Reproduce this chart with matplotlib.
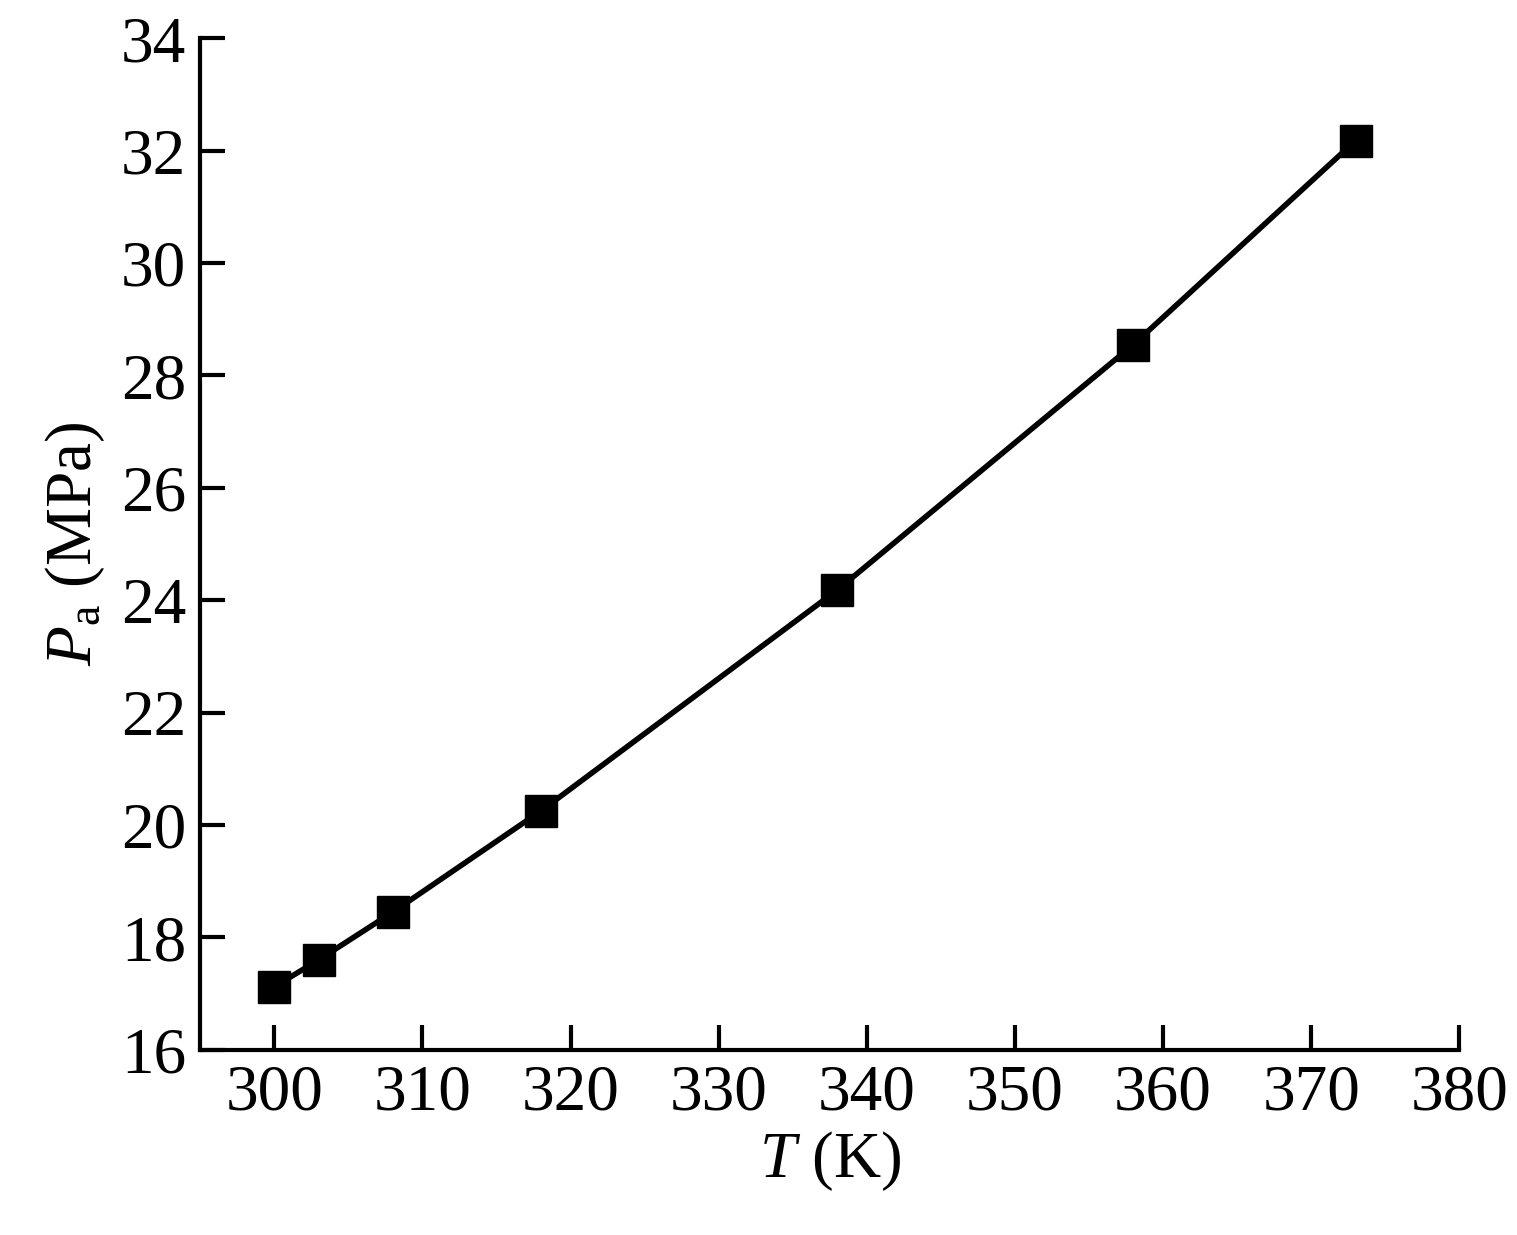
import matplotlib.pyplot as plt

# data
temperature = [300, 303, 308, 318, 338, 358, 373]
pressure = [17.12, 17.6, 18.45, 20.25, 24.18, 28.55, 32.18]

plt.rcParams['font.family'] = ['Liberation Serif', 'DejaVu Serif']
plt.rcParams['mathtext.fontset'] = 'custom'
plt.rcParams['mathtext.rm'] = 'Liberation Serif'
plt.rcParams['mathtext.it'] = 'Liberation Serif:italic'

fig = plt.figure(figsize=(15.17, 12.35), dpi=100)
ax = fig.add_axes([0.132, 0.150, 0.830, 0.819])
ax.plot(temperature, pressure, color='black', linewidth=4,
        marker='s', markersize=23)
ax.set_xlim(295, 380)
ax.set_ylim(16, 34)
ax.set_xticks(range(300, 381, 10))
ax.set_yticks(range(16, 35, 2))
ax.spines['top'].set_visible(False)
ax.spines['right'].set_visible(False)
for s in ['left', 'bottom']:
    ax.spines[s].set_linewidth(3)
ax.tick_params(direction='in', length=18, width=3, labelsize=47, pad=10)
ax.set_xlabel(r'$T$ (K)', fontsize=47, labelpad=4)
ax.set_ylabel(r'$P_{\mathrm{a}}$ (MPa)', fontsize=47, labelpad=10)
fig.savefig('out.png', dpi=100)
